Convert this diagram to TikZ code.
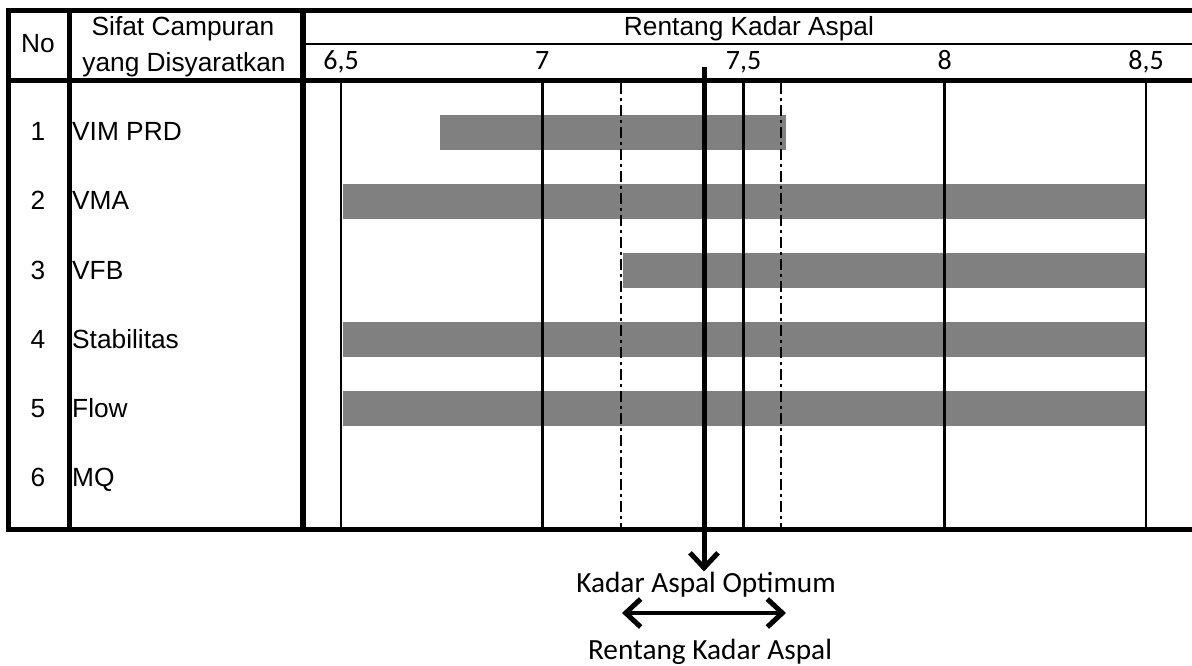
\documentclass[tikz,border=0pt]{standalone}
\usepackage{fontspec}
\setmainfont{Liberation Sans}
\newfontfamily\calfont{Carlito}
\usetikzlibrary{positioning,arrows.meta,calc}
\definecolor{barGray}{HTML}{808080}

\begin{document}
\begin{tikzpicture}[x=1pt,y=-1pt,
  txt/.style={inner sep=0pt, font=\fontsize{26.3}{30}\selectfont},
  ticklab/.style={inner sep=0pt, anchor=base, font=\calfont\fontsize{28}{32}\selectfont},
  notelab/.style={inner sep=0pt, anchor=base, font=\calfont\fontsize{29.3}{32}\selectfont},
  tableline/.style={line width=5pt, line cap=rect},
  tickline/.style={line width=2.8pt},
  limitline/.style={line width=2.8pt, dash pattern=on 11pt off 4pt on 3pt off 4pt},
  optarrow/.style={line width=5pt, -{Straight Barb[length=15pt,width=28pt,line width=5pt]}},
  rangearrow/.style={line width=4.5pt, {Straight Barb[length=15pt,width=28pt,line width=5pt]}-{Straight Barb[length=15pt,width=28pt,line width=5pt]}},
  propbar/.style={fill=barGray}]
\useasboundingbox (0,0) rectangle (1192,666);

% bars of each property
\foreach \r/\a/\b in {1/6.745/7.605, 2/6.505/8.5, 3/7.2/8.5, 4/6.505/8.5, 5/6.505/8.5}
  \fill[propbar] ({341+(\a-6.5)*402.5},{46+69*\r}) rectangle ({341+(\b-6.5)*402.5},{81+69*\r});

% scale lines
\foreach \v/\lab in {6.5/{6,5}, 7/7, 7.5/{7,5}, 8/8, 8.5/{8,5}} {
  \draw[tickline] ({341+(\v-6.5)*402.5},81) -- ({341+(\v-6.5)*402.5},529);
  \node[ticklab] (t\v) at ({341+(\v-6.5)*402.5},70) {\lab};
}
\foreach \x in {621,781}
  \draw[limitline] (\x,83) -- (\x,527);

% table frame
\draw[tableline] (1192,11) -- (8,11) -- (8,529) -- (1192,529);
\draw[tableline] (8,81) -- (1192,81);
\draw[tableline] (69,11) -- (69,529);
\draw[line width=6pt] (303,11) -- (303,529);
\draw[line width=2.5pt] (303,44) -- (1192,44);

% header
\node[txt, anchor=base] (no) at (38,53) {No};
\node[txt, anchor=base] (sifat) at (183,36) {Sifat Campuran};
\node[txt, anchor=base] (sifat2) at (184,72) {yang Disyaratkan};
\node[txt, anchor=base] (rentang) at (749,36) {Rentang Kadar Aspal};

% rows
\foreach \r/\name in {1/VIM PRD, 2/VMA, 3/VFB, 4/Stabilitas, 5/Flow, 6/MQ} {
  \node[txt, anchor=base] (no\r) at (38,{72+69*\r}) {\r};
  \node[txt, anchor=base west] (prop\r) at (72,{72+69*\r}) {\name};
}

% optimum and range
\coordinate (opt) at (704,67);
\node[notelab] (optimum) at (706,592) {Kadar Aspal Optimum};
\draw[optarrow] (opt) -- (opt |- optimum.north);
\coordinate (rl) at (622,613);
\coordinate (rr) at (786,613);
\draw[rangearrow] (rl) -- (rr);
\node[notelab] (rangelab) at (710,659) {Rentang Kadar Aspal};
\end{tikzpicture}
\end{document}
